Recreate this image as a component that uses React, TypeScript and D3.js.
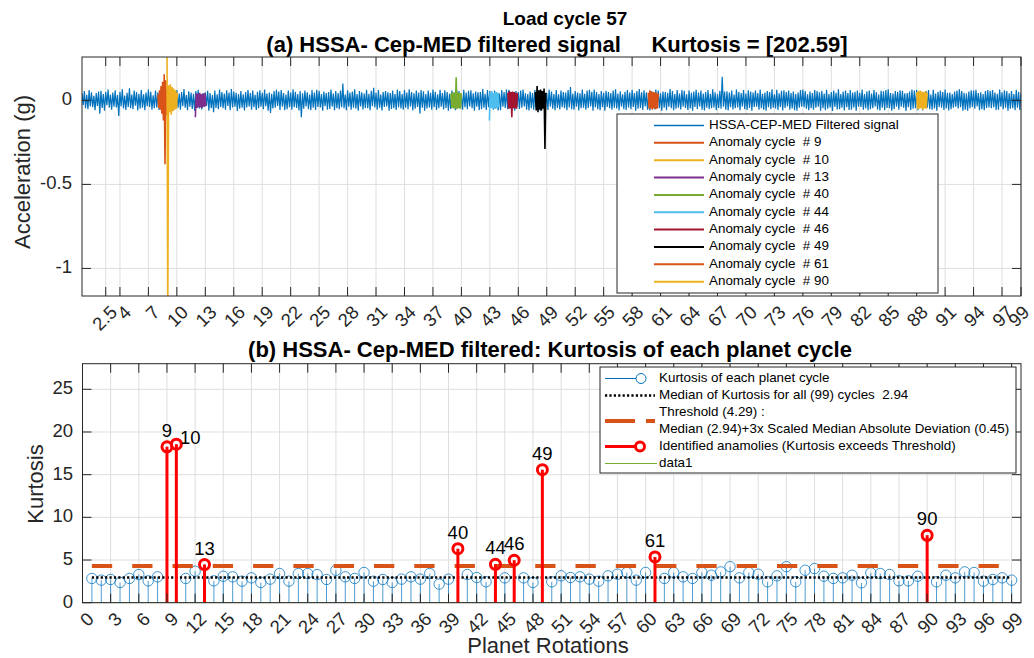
import React from 'react';
import * as d3 from 'd3';

// ---------------- DATA ----------------
// (b) Kurtosis of each planet cycle (cycles 1..99)
const cycles: number[] = Array.from({ length: 99 }, (_, i) => i + 1);
const kurtosis: number[] = [
  2.84, 2.64, 2.72, 2.37, 2.84, 3.30, 2.56, 3.03, 18.26, 18.57,
  2.84, 3.69, 4.47, 2.56, 3.10, 3.03, 2.52, 2.91, 2.37, 2.76,
  3.42, 2.52, 3.42, 3.42, 3.30, 2.72, 3.80, 3.03, 2.84, 3.54,
  2.52, 2.72, 2.37, 2.76, 3.03, 2.76, 3.42, 2.18, 2.76, 6.33,
  3.30, 2.95, 2.45, 4.50, 2.91, 4.97, 2.91, 2.37, 15.58, 2.45,
  3.15, 2.95, 3.03, 2.76, 2.52, 3.15, 3.34, 3.54, 2.64, 3.54,
  5.36, 2.84, 3.54, 3.03, 2.84, 3.54, 3.22, 3.61, 4.22, 2.91,
  3.54, 3.34, 2.45, 3.15, 4.22, 2.45, 3.80, 4.00, 3.10, 2.84,
  2.91, 3.22, 2.33, 3.50, 3.42, 3.30, 2.56, 2.56, 3.10, 7.89,
  2.45, 3.22, 2.91, 3.61, 3.54, 2.52, 2.72, 2.91, 2.64,
];
const medianKurtosis = 2.94;
const threshold = 4.29;
const anomalyCycles: number[] = [9, 10, 13, 40, 44, 46, 49, 61, 90];

// (a) filtered signal, milli-g, 8 samples per rotation starting at rotation 0 (one row per rotation)
const signalStep = 0.125;
const signal: number[] = [
  42, -28, 55, -47, 33, -52, 61, -36,
  48, -41, 27, -58, 44, -33, 52, -80,
  57, -45, 38, -62, 49, -29, 64, -44,
  35, -55, 47, -38, 60, -42, 31, -93,
  51, -36, 66, -48, 29, -57, 45, -40,
  72, -46, 34, -53, 58, -31, 49, -60,
  39, -50, 62, -43, 36, -58, 47, -35,
  64, -39, 51, -55, 30, -47, 59, -42,
  46, -57, 33, -49, 63, -38, 52, -45,
  37, -52, 58, -41, 45, -60, 34, -48,
  61, -44, 40, -56, 50, -35, 67, -43,
  32, -59, 54, -37, 46, -51, 39, -62,
  55, -40, 63, -48, 35, -54, 42, -38,
  48, -33, 57, -61, 44, -47, 31, -70,
  59, -45, 36, -52, 65, -39, 50, -46,
  41, -56, 60, -34, 47, -58, 68, -42,
  53, -37, 45, -63, 38, -49, 56, -44,
  36, -60, 49, -42, 62, -36, 44, -55,
  58, -41, 33, -57, 51, -46, 60, -38,
  45, -53, 64, -35, 40, -61, 47, -75,
  39, -48, 56, -44, 63, -33, 52, -57,
  62, -37, 43, -59, 35, -52, 58, -41,
  47, -55, 66, -40, 51, -45, 38, -60,
  55, -100, 42, -49, 59, -36, 48, -53,
  34, -58, 61, -43, 46, -57, 63, -39,
  57, -42, 38, -62, 52, -35, 44, -55,
  49, -51, 65, -37, 41, -59, 56, -46,
  44, -53, 58, -40, 100, -47, 35, -58,
  60, -38, 47, -56, 52, -43, 66, -49,
  37, -61, 55, -36, 48, -54, 41, -45,
  63, -47, 39, -58, 57, -35, 75, -42,
  45, -55, 62, -44, 34, -60, 50, -39,
  56, -36, 48, -62, 43, -51, 59, -46,
  38, -57, 64, -41, 55, -48, 37, -55,
  61, -43, 46, -53, 66, -37, 49, -60,
  42, -50, 58, -39, 47, -78, 61, -44,
  54, -62, 37, -48, 59, -42, 45, -56,
  65, -40, 51, -57, 36, -46, 63, -38,
  44, -54, 60, -45, 50, -61, 39, -51,
  58, -37, 47, -59, 62, -43, 55, -48,
  35, -56, 63, -40, 46, -52, 57, -36,
  60, -47, 42, -61, 53, -38, 48, -58,
  49, -53, 67, -44, 39, -57, 62, -41,
  56, -36, 45, -55, 58, -48, 36, -60,
  41, -59, 61, -38, 50, -45, 64, -52,
  63, -44, 38, -57, 47, -62, 55, -37,
  50, -51, 59, -43, 65, -36, 42, -56,
  37, -60, 53, -46, 44, -55, 61, -41,
  58, -42, 48, -63, 55, -39, 46, -50,
  44, -57, 64, -37, 52, -49, 38, -59,
  61, -45, 36, -54, 59, -41, 50, -47,
  47, -58, 62, -42, 80, -53, 39, -55,
  55, -38, 46, -60, 42, -47, 65, -43,
  39, -56, 58, -45, 63, -36, 51, -61,
  64, -41, 49, -53, 37, -58, 56, -40,
  45, -62, 57, -39, 50, -46, 43, -55,
  58, -44, 66, -48, 41, -60, 54, -37,
  36, -53, 51, -57, 62, -42, 47, -52,
  63, -39, 44, -61, 55, -49, 68, -45,
  48, -57, 60, -36, 46, -55, 39, -60,
  55, -43, 37, -52, 64, -41, 58, -47,
  42, -61, 53, -44, 49, -58, 45, -38,
  67, -46, 56, -59, 38, -50, 61, -43,
  40, -54, 62, -37, 57, -45, 36, -57,
  59, -48, 45, -62, 52, -39, 63, -51,
  46, -36, 58, -55, 41, -60, 50, -44,
  62, -53, 39, -47, 66, -42, 48, -58,
  37, -45, 57, -50, 140, -38, 52, -55,
  54, -60, 46, -41, 59, -54, 35, -47,
  65, -42, 51, -58, 44, -37, 62, -53,
  41, -57, 60, -45, 53, -61, 47, -39,
  58, -38, 43, -56, 64, -46, 39, -55,
  47, -62, 55, -40, 50, -52, 66, -44,
  36, -48, 63, -57, 42, -39, 57, -60,
  60, -45, 49, -36, 58, -55, 44, -48,
  53, -59, 38, -62, 47, -43, 61, -37,
  64, -41, 56, -50, 36, -58, 52, -46,
  43, -55, 61, -44, 55, -37, 48, -61,
  57, -47, 40, -59, 63, -50, 37, -42,
  49, -63, 58, -38, 45, -54, 66, -52,
  38, -44, 52, -60, 59, -41, 43, -57,
  62, -56, 47, -42, 51, -62, 58, -38,
  45, -39, 65, -55, 38, -47, 53, -59,
  59, -52, 41, -46, 62, -36, 48, -54,
  35, -60, 57, -43, 54, -58, 61, -45,
  66, -47, 44, -61, 40, -51, 56, -37,
  50, -55, 60, -38, 57, -44, 42, -63,
  43, -41, 53, -57, 64, -49, 59, -46,
  61, -58, 38, -45, 49, -60, 46, -40,
  56, -43, 62, -52, 35, -56, 63, -48,
  40, -61, 51, -39, 58, -43, 50, -57,
  64, -46, 45, -60, 47, -53, 37, -44,
  52, -37, 59, -48, 66, -40, 55, -61,
  45, -55, 41, -62, 53, -47, 60, -39,
  58, -50, 63, -36, 44, -58, 48, -53,
  37, -59, 55, -45, 61, -42, 57, -47,
  62, -41, 47, -57, 39, -55, 64, -38,
  48, -53, 60, -43, 56, -61, 42, -50,
  55, -46, 38, -59, 63, -44, 51, -57,
  45,
];

// anomaly segments overlaid on the signal (rotation start/end, milli-g samples)
const anomalyStart: number[] = [8.0, 8.95, 11.95, 38.9, 42.95, 44.9, 47.8, 59.7, 88.0];
const anomalyEnd: number[] = [9.0, 10.05, 13.05, 40.0, 43.95, 45.9, 48.9, 60.75, 89.1];
const anomalySignals: number[][] = [
  [35, -45, 60, -55, 85, -80, 110, -120, 155, -380, 120, -90, 60],
  [600, -1300, 90, -70, 95, -85, 80, -65, 70, -55, 60, -50, 45],
  [-100, 40, -45, 42, -40, 45, -42, 38, -44, 40, -38, 42, -35],
  [40, -45, 50, -48, 45, -50, 137, -52, 48, -46, 44, -50, 42],
  [-120, 50, -45, 55, -48, 42, -50, 46, -44, 50, -46, 45, -40],
  [45, -50, 55, -48, 50, -100, 52, -46, 50, -48, 45, -50, 42],
  [50, -60, 85, -70, 60, -55, 65, -60, 55, -50, 70, -290, 45],
  [45, -50, 60, -48, 52, -55, 50, -46, 48, -52, 45, -48, 40],
  [48, -52, 55, -50, 58, -46, 52, -55, 50, -48, 54, -50, 45],
];

const topXTicks: number[] = [2.5, 4, 7, 10, 13, 16, 19, 22, 25, 28, 31, 34, 37, 40, 43, 46, 49, 52, 55, 58, 61, 64, 67, 70, 73, 76, 79, 82, 85, 88, 91, 94, 97, 99];
const topYTicks: number[] = [-1, -0.5, 0];
const botXTicks: number[] = [0, 3, 6, 9, 12, 15, 18, 21, 24, 27, 30, 33, 36, 39, 42, 45, 48, 51, 54, 57, 60, 63, 66, 69, 72, 75, 78, 81, 84, 87, 90, 93, 96, 99];
const botYTicks: number[] = [0, 5, 10, 15, 20, 25];

const titleLine1 = 'Load cycle 57';
const titleLine2 = '(a) HSSA- Cep-MED filtered signal     Kurtosis = [202.59]';
const titleB = '(b) HSSA- Cep-MED filtered: Kurtosis of each planet cycle';

// ---------------- STYLE ----------------
const FONT = '"Liberation Sans", Arial, Helvetica, sans-serif';
const AX = '#262626';
const GRID = '#dedede';
const BLUE = '#0072BD';
const anomalyColors = ['#D95319', '#EDB120', '#7E2F8E', '#77AC30', '#4DBEEE', '#A2142F', '#000000', '#D95319', '#EDB120'];
const labelDx: Record<number, number> = { 10: 14 };
const labelDy: Record<number, number> = { 10: 0 };

export default function App() {
  const tL = 82, tR = 1021, tT = 57, tB = 296;
  const bL = 82.5, bR = 1021, bT = 363.7, bB = 602.7;
  const xTop = d3.scaleLinear().domain([0, 99]).range([tL, tR]);
  const yTop = d3.scaleLinear().domain([-1.164, 0.258]).range([tB, tT]);
  const xBot = d3.scaleLinear().domain([0, 100]).range([bL, bR]);
  const yBot = d3.scaleLinear().domain([0, 28]).range([bB, bT]);

  const line = d3.line<[number, number]>().x(d => xTop(d[0])).y(d => yTop(d[1] / 1000));
  const sigPts: [number, number][] = signal.map((v, i) => [i * signalStep, v]);
  const sigPath = line(sigPts) || '';
  const anomPaths = anomalySignals.map((arr, k) => {
    const s = anomalyStart[k], e = anomalyEnd[k];
    const pts: [number, number][] = arr.map((v, i) => [s + (e - s) * i / (arr.length - 1), v]);
    return line(pts) || '';
  });

  const tick = 9;
  const tickFont = 18.5;

  const anomalySet = new Set(anomalyCycles);

  return (
    <svg width={1034} height={658} style={{ position: 'absolute', left: 0, top: 0, background: '#fff' }} fontFamily={FONT}>
      <defs>
        <clipPath id="clipTop"><rect x={tL} y={tT} width={tR - tL} height={tB - tT} /></clipPath>
        <clipPath id="clipBot"><rect x={bL} y={bT} width={bR - bL} height={bB - bT} /></clipPath>
      </defs>
      <rect x={0} y={0} width={1034} height={658} fill="#fff" />

      {/* Titles */}
      <text x={565} y={25} textAnchor="middle" fontWeight="bold" fontSize={19} fill="#000">{titleLine1}</text>
      <text x={557} y={52} textAnchor="middle" fontWeight="bold" fontSize={22} fill="#000" style={{ whiteSpace: 'pre' }}>{titleLine2}</text>

      {/* ---------- TOP PANEL ---------- */}
      <g>
        {topXTicks.map(t => (
          <line key={'gx' + t} x1={xTop(t)} x2={xTop(t)} y1={tT} y2={tB} stroke={GRID} strokeWidth={1} />
        ))}
        {topYTicks.map(t => (
          <line key={'gy' + t} x1={tL} x2={tR} y1={yTop(t)} y2={yTop(t)} stroke={GRID} strokeWidth={1} />
        ))}
        <g clipPath="url(#clipTop)">
          <path d={sigPath} fill="none" stroke={BLUE} strokeWidth={1.2} />
          {anomPaths.map((p, k) => (
            <path key={'an' + k} d={p} fill="none" stroke={anomalyColors[k]} strokeWidth={1.6} />
          ))}
        </g>
        <rect x={tL} y={tT} width={tR - tL} height={tB - tT} fill="none" stroke={AX} strokeWidth={1} />
        {topXTicks.map(t => (
          <g key={'tx' + t}>
            <line x1={xTop(t)} x2={xTop(t)} y1={tB} y2={tB - tick} stroke={AX} />
            <line x1={xTop(t)} x2={xTop(t)} y1={tT} y2={tT + tick} stroke={AX} />
            <text transform={`translate(${xTop(t) + (t === 99 ? 6 : 9)},${tB + 14}) rotate(-45)`} textAnchor="end" dominantBaseline="middle" fontSize={tickFont} fill={AX}>{t}</text>
          </g>
        ))}
        {topYTicks.map(t => (
          <g key={'ty' + t}>
            <line x1={tL} x2={tL + tick} y1={yTop(t)} y2={yTop(t)} stroke={AX} />
            <line x1={tR} x2={tR - tick} y1={yTop(t)} y2={yTop(t)} stroke={AX} />
            <text x={72} y={yTop(t)} textAnchor="end" dominantBaseline="middle" fontSize={tickFont} fill={AX}>{t}</text>
          </g>
        ))}
        <text transform={`translate(30,172) rotate(-90)`} textAnchor="middle" fontSize={22} fill={AX}>Acceleration (g)</text>

        {/* legend */}
        <g>
          <rect x={617} y={114} width={321} height={179} fill="#fff" stroke={AX} strokeWidth={1} />
          {['HSSA-CEP-MED Filtered signal', ...anomalyCycles.map(c => `Anomaly cycle  # ${c}`)].map((lab, i) => {
            const y = 125.5 + i * 17.35;
            const col = i === 0 ? BLUE : anomalyColors[i - 1];
            return (
              <g key={'lg' + i}>
                <line x1={654} x2={704} y1={y} y2={y} stroke={col} strokeWidth={i === 0 ? 1.3 : 2} />
                <text x={709} y={y} dominantBaseline="middle" fontSize={13.4} fill="#000" style={{ whiteSpace: 'pre' }}>{lab}</text>
              </g>
            );
          })}
        </g>
      </g>

      {/* ---------- BOTTOM PANEL ---------- */}
      <text x={550} y={357} textAnchor="middle" fontWeight="bold" fontSize={22} fill="#000">{titleB}</text>
      <g>
        {botXTicks.map(t => (
          <line key={'bgx' + t} x1={xBot(t)} x2={xBot(t)} y1={bT} y2={bB} stroke={GRID} strokeWidth={1} />
        ))}
        {botYTicks.map(t => (
          <line key={'bgy' + t} x1={bL} x2={bR} y1={yBot(t)} y2={yBot(t)} stroke={GRID} strokeWidth={1} />
        ))}
        <g clipPath="url(#clipBot)">
          <line x1={xBot(1)} x2={xBot(99)} y1={yBot(0)} y2={yBot(0)} stroke="#77AC30" strokeWidth={1} />
          {cycles.map((c, i) => (
            <g key={'st' + c}>
              <line x1={xBot(c)} x2={xBot(c)} y1={yBot(0)} y2={yBot(kurtosis[i])} stroke={BLUE} strokeOpacity={0.7} strokeWidth={1} />
              <circle cx={xBot(c)} cy={yBot(kurtosis[i])} r={5.2} fill="none" stroke={BLUE} strokeOpacity={0.75} strokeWidth={1} />
            </g>
          ))}
          <line x1={xBot(1)} x2={xBot(99)} y1={yBot(medianKurtosis)} y2={yBot(medianKurtosis)} stroke="#000" strokeWidth={2.5} strokeDasharray="2.2,2.2" />
          <line x1={xBot(1)} x2={xBot(99)} y1={yBot(threshold)} y2={yBot(threshold)} stroke="#D95319" strokeWidth={4} strokeDasharray="20.3,20" />
          {cycles.filter(c => anomalySet.has(c)).map(c => {
            const v = kurtosis[c - 1];
            return (
              <g key={'ra' + c}>
                <line x1={xBot(c)} x2={xBot(c)} y1={yBot(0)} y2={yBot(v)} stroke="#FF0000" strokeWidth={3} />
                <circle cx={xBot(c)} cy={yBot(v)} r={5} fill="none" stroke="#FF0000" strokeWidth={3} />
              </g>
            );
          })}
        </g>
        {cycles.filter(c => anomalySet.has(c)).map(c => {
          const v = kurtosis[c - 1];
          const dx = labelDx[c] ?? 0;
          const dy = labelDy[c] ?? -10;
          return (
            <text key={'lb' + c} x={xBot(c) + dx} y={yBot(v) + dy} textAnchor="middle" fontSize={18.5} fill="#000">{c}</text>
          );
        })}
        <rect x={bL} y={bT} width={bR - bL} height={bB - bT} fill="none" stroke={AX} strokeWidth={1} />
        {botXTicks.map(t => (
          <g key={'btx' + t}>
            <line x1={xBot(t)} x2={xBot(t)} y1={bB} y2={bB - tick} stroke={AX} />
            <line x1={xBot(t)} x2={xBot(t)} y1={bT} y2={bT + tick} stroke={AX} />
            <text transform={`translate(${xBot(t) + 9},${bB + 14}) rotate(-45)`} textAnchor="end" dominantBaseline="middle" fontSize={tickFont} fill={AX}>{t}</text>
          </g>
        ))}
        {botYTicks.map(t => (
          <g key={'bty' + t}>
            <line x1={bL} x2={bL + tick} y1={yBot(t)} y2={yBot(t)} stroke={AX} />
            <line x1={bR} x2={bR - tick} y1={yBot(t)} y2={yBot(t)} stroke={AX} />
            <text x={73} y={yBot(t)} textAnchor="end" dominantBaseline="middle" fontSize={tickFont} fill={AX}>{t}</text>
          </g>
        ))}
        <text transform={`translate(43,484) rotate(-90)`} textAnchor="middle" fontSize={22} fill={AX}>Kurtosis</text>
        <text x={548} y={653} textAnchor="middle" fontSize={22} fill={AX}>Planet Rotations</text>

        {/* legend */}
        <g>
          <rect x={600} y={367} width={416} height={106} fill="#fff" stroke={AX} strokeWidth={1} />
          <line x1={605} x2={636} y1={378.5} y2={378.5} stroke={BLUE} strokeWidth={1} />
          <circle cx={641} cy={378.5} r={5} fill="none" stroke={BLUE} strokeWidth={1} />
          <text x={659} y={378.5} dominantBaseline="middle" fontSize={13.4} fill="#000">Kurtosis of each planet cycle</text>
          <line x1={605} x2={655} y1={395.5} y2={395.5} stroke="#000" strokeWidth={2.5} strokeDasharray="2.2,2.2" />
          <text x={659} y={395.5} dominantBaseline="middle" fontSize={13.4} fill="#000" style={{ whiteSpace: 'pre' }}>{`Median of Kurtosis for all (${cycles.length}) cycles  ${medianKurtosis}`}</text>
          <line x1={605} x2={655} y1={421} y2={421} stroke="#D95319" strokeWidth={4} strokeDasharray="30,11" />
          <text x={659} y={412.5} dominantBaseline="middle" fontSize={13.4} fill="#000">{`Threshold (${threshold}) :`}</text>
          <text x={659} y={429.5} dominantBaseline="middle" fontSize={13.4} fill="#000">{`Median (${medianKurtosis})+3x Scaled Median Absolute Deviation (0.45)`}</text>
          <line x1={605} x2={640} y1={446.5} y2={446.5} stroke="#FF0000" strokeWidth={3} />
          <circle cx={640} cy={446.5} r={4.5} fill="#fff" stroke="#FF0000" strokeWidth={3} />
          <text x={659} y={446.5} dominantBaseline="middle" fontSize={13.4} fill="#000">Identified anamolies (Kurtosis exceeds Threshold)</text>
          <line x1={605} x2={657} y1={463.5} y2={463.5} stroke="#77AC30" strokeWidth={1} />
          <text x={659} y={463.5} dominantBaseline="middle" fontSize={13.4} fill="#000">data1</text>
        </g>
      </g>
    </svg>
  );
}
